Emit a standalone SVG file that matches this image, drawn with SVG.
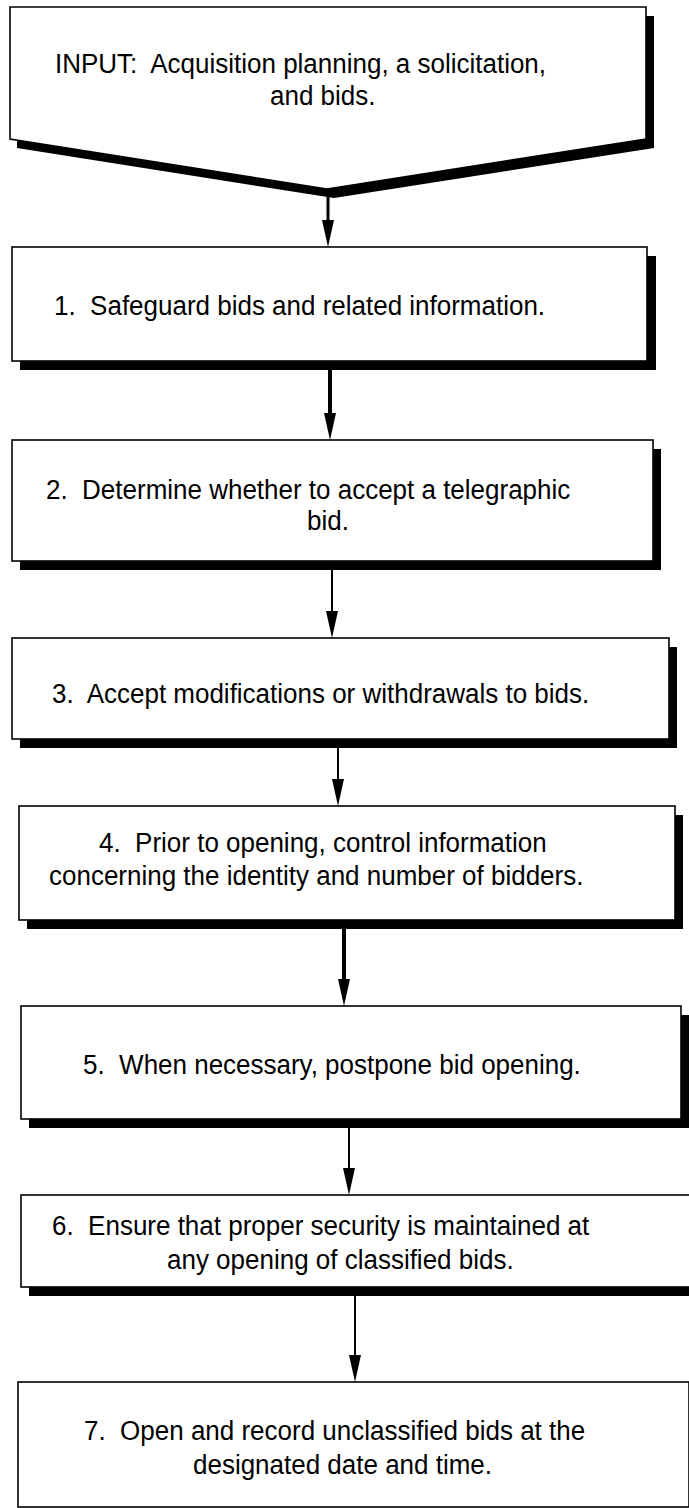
<svg xmlns="http://www.w3.org/2000/svg" width="689" height="1508" viewBox="0 0 689 1508">
<style>
.box{fill:#fff;stroke:#000;stroke-width:1.6}
.sh{fill:#000}
.t{font-family:"Liberation Sans",Arial,sans-serif;font-size:26px;fill:#000;white-space:pre}
.thin{stroke:#000;stroke-width:2;fill:none}
.mid{stroke:#000;stroke-width:3;fill:none}
.thick{stroke:#000;stroke-width:4;fill:none}
</style>
<defs>
<marker id="ah" markerUnits="userSpaceOnUse" markerWidth="28" markerHeight="12" refX="17" refY="6" orient="auto" viewBox="0 0 28 12"><path d="M0,0 L27,6 L0,12 z" fill="#000"/></marker>
</defs>
<rect width="689" height="1508" fill="#fff"/>
<g id="input">
<polygon class="sh" points="17,16 654,16 654,148 334,198 17,148"/>
<polygon class="box" points="10,7 646,7 646,139 327,189 10,139"/>
<text class="t" transform="translate(55,73) scale(1,1.07)">INPUT:  Acquisition planning, a solicitation,</text>
<text class="t" transform="translate(270,105) scale(1,1.07)">and bids.</text>
</g>
<g id="step1">
<rect class="sh" x="20" y="256" width="636" height="114"/>
<rect class="box" x="12" y="247" width="635" height="114"/>
<text class="t" transform="translate(54,315) scale(1,1.07)">1.  Safeguard bids and related information.</text>
</g>
<g id="step2">
<rect class="sh" x="20" y="449" width="641" height="121"/>
<rect class="box" x="12" y="440" width="641" height="121"/>
<text class="t" transform="translate(46,499) scale(1,1.07)">2.  Determine whether to accept a telegraphic</text>
<text class="t" transform="translate(307,530) scale(1,1.07)">bid.</text>
</g>
<g id="step3">
<rect class="sh" x="20" y="647" width="657" height="101"/>
<rect class="box" x="12" y="638" width="657" height="101"/>
<text class="t" transform="translate(52,703) scale(1,1.07)">3.  Accept modifications or withdrawals to bids.</text>
</g>
<g id="step4">
<rect class="sh" x="27" y="815" width="656" height="114"/>
<rect class="box" x="19" y="806" width="656" height="114"/>
<text class="t" transform="translate(99,852) scale(1,1.07)">4.  Prior to opening, control information</text>
<text class="t" transform="translate(49,885) scale(1,1.07)">concerning the identity and number of bidders.</text>
</g>
<g id="step5">
<rect class="sh" x="29" y="1015" width="668" height="113"/>
<rect class="box" x="21" y="1006" width="660" height="113"/>
<text class="t" transform="translate(83,1074) scale(1,1.07)">5.  When necessary, postpone bid opening.</text>
</g>
<g id="step6">
<rect class="sh" x="29" y="1204" width="670" height="92"/>
<rect class="box" x="21" y="1195" width="672" height="92"/>
<text class="t" transform="translate(52,1235) scale(1,1.07)">6.  Ensure that proper security is maintained at</text>
<text class="t" transform="translate(167,1269) scale(1,1.07)">any opening of classified bids.</text>
</g>
<g id="step7">
<rect class="box" x="18" y="1382" width="671" height="125"/>
<text class="t" transform="translate(84,1440) scale(1,1.07)">7.  Open and record unclassified bids at the</text>
<text class="t" transform="translate(193,1474) scale(1,1.07)">designated date and time.</text>
</g>
<g id="connectors">
<line class="mid" x1="328" y1="189" x2="328" y2="237" marker-end="url(#ah)"/>
<line class="thick" x1="330" y1="370" x2="330" y2="430" marker-end="url(#ah)"/>
<line class="thin" x1="332" y1="570" x2="332" y2="628" marker-end="url(#ah)"/>
<line class="thin" x1="338" y1="748" x2="338" y2="796" marker-end="url(#ah)"/>
<line class="thick" x1="344" y1="929" x2="344" y2="996" marker-end="url(#ah)"/>
<line class="thin" x1="349" y1="1128" x2="349" y2="1185" marker-end="url(#ah)"/>
<line class="thin" x1="355" y1="1296" x2="355" y2="1372" marker-end="url(#ah)"/>
</g>
</svg>
